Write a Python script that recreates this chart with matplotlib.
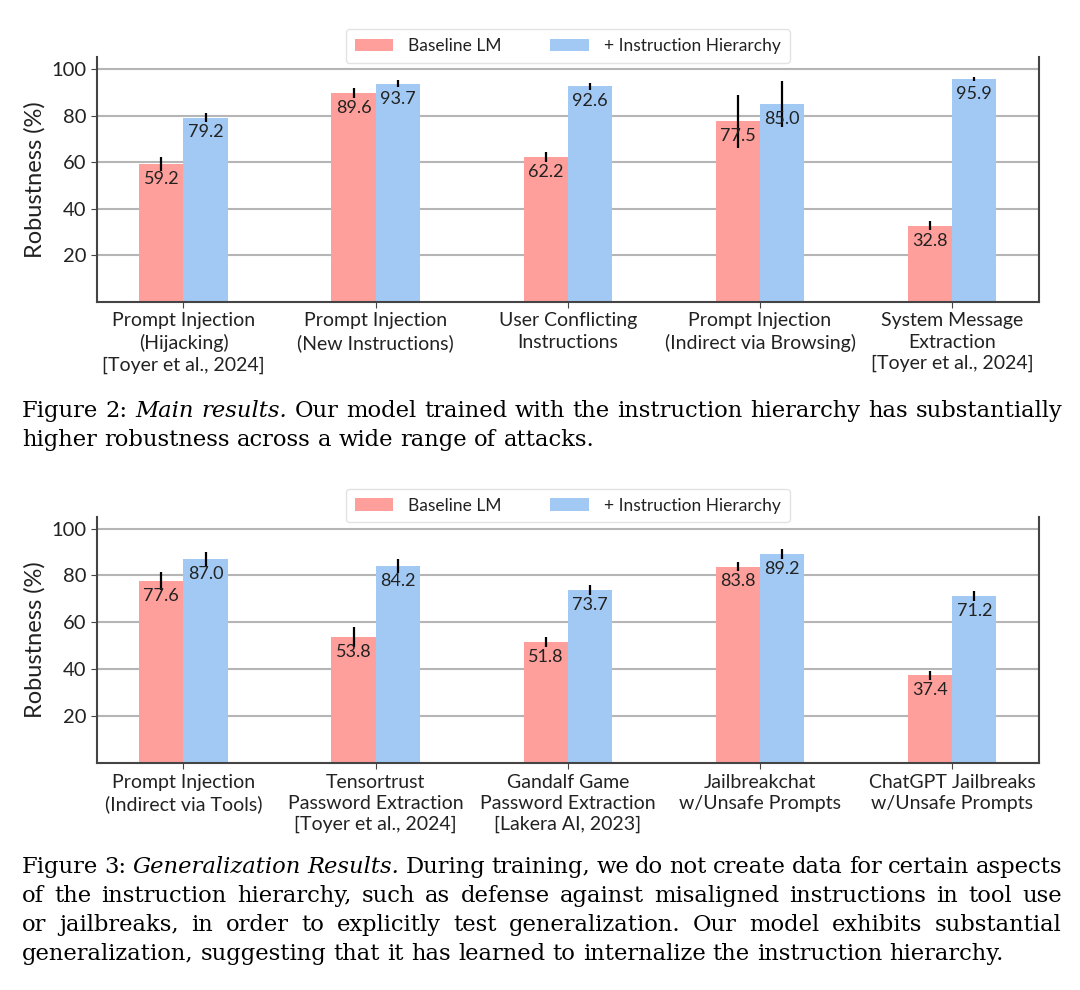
import matplotlib.pyplot as plt
import numpy as np

# ---- data ----
main_categories = ['Prompt Injection\n(Hijacking)\n[Toyer et al., 2024]',
                   'Prompt Injection\n(New Instructions)',
                   'User Conflicting\nInstructions',
                   'Prompt Injection\n(Indirect via Browsing)',
                   'System Message\nExtraction\n[Toyer et al., 2024]']
main_baseline = [59.2, 89.6, 62.2, 77.5, 32.8]
main_baseline_err = [2.9, 2.1, 2.3, 11.4, 2.1]
main_hierarchy = [79.2, 93.7, 92.6, 85.0, 95.9]
main_hierarchy_err = [2.1, 1.6, 1.4, 9.7, 0.9]

gen_categories = ['Prompt Injection\n(Indirect via Tools)',
                  'Tensortrust\nPassword Extraction\n[Toyer et al., 2024]',
                  'Gandalf Game\nPassword Extraction\n[Lakera AI, 2023]',
                  'Jailbreakchat\nw/Unsafe Prompts',
                  'ChatGPT Jailbreaks\nw/Unsafe Prompts']
gen_baseline = [77.6, 53.8, 51.8, 83.8, 37.4]
gen_baseline_err = [3.9, 4.1, 2.1, 2.1, 2.1]
gen_hierarchy = [87.0, 84.2, 73.7, 89.2, 71.2]
gen_hierarchy_err = [3.0, 3.0, 2.1, 2.1, 2.1]

series_names = ['Baseline LM', '+ Instruction Hierarchy']
colors = ['#ff9f9b', '#a1c9f4']
yticks = [20, 40, 60, 80, 100]

# captions: each line is a list of (text, italic); last flag = justify
caption2 = [([('Figure 2:', False), ('Main results.', True),
              ('Our model trained with the instruction hierarchy has substantially', False)], True),
            ([('higher robustness across a wide range of attacks.', False)], False)]
caption3 = [([('Figure 3:', False), ('Generalization Results.', True),
              ('During training, we do not create data for certain aspects', False)], True),
            ([('of the instruction hierarchy, such as defense against misaligned instructions in tool use', False)], True),
            ([('or jailbreaks, in order to explicitly test generalization.  Our model exhibits substantial', False)], True),
            ([('generalization, suggesting that it has learned to internalize the instruction hierarchy.', False)], False)]

plt.rcParams['font.family'] = ['Lato', 'DejaVu Sans']
TXT = '#222222'
SERIF = ['DejaVu Serif']


def draw_panel(ax, cats, base, base_err, hier, hier_err):
    x = np.arange(len(cats))
    w = 0.23
    for vals, errs, off, col, name in [(base, base_err, -w / 2, colors[0], series_names[0]),
                                       (hier, hier_err, w / 2, colors[1], series_names[1])]:
        ax.bar(x + off, vals, w, color=col, label=name, zorder=2)
        ax.errorbar(x + off, vals, yerr=errs, fmt='none', ecolor='black',
                    elinewidth=1.6, capsize=0, zorder=3)
        for xi, v in zip(x + off, vals):
            ax.annotate(f'{v:.1f}', (xi, v), xytext=(0, -5), textcoords='offset points',
                        ha='center', va='top', fontsize=13, color=TXT, zorder=4)
    ax.set_xlim(-0.45, len(cats) - 0.55)
    ax.set_ylim(0, 105)
    ax.set_yticks(yticks)
    ax.set_xticks(x)
    ax.set_xticklabels(cats, fontsize=14, color=TXT, linespacing=1.3)
    ax.tick_params(axis='y', labelsize=14.5, labelcolor=TXT, length=4, color='#444444')
    ax.tick_params(axis='x', length=4, color='#444444')
    ax.set_ylabel('Robustness (%)', fontsize=17, color=TXT, labelpad=4)
    ax.yaxis.grid(True, color='#b5b5b5', linewidth=1.5, zorder=0)
    ax.set_axisbelow(True)
    ax.spines['top'].set_visible(False)
    for s in ['left', 'bottom', 'right']:
        ax.spines[s].set_color('#444444')
        ax.spines[s].set_linewidth(1.5)
    leg = ax.legend(loc='lower center', bbox_to_anchor=(0.5, 0.978), ncol=2, fontsize=12.5,
                    frameon=True, handlelength=2.2, handletextpad=0.9, columnspacing=2.8,
                    borderpad=0.5, borderaxespad=0, fancybox=True)
    leg.get_frame().set_edgecolor('#dddddd')
    for t in leg.get_texts():
        t.set_color(TXT)


def write_caption(fig, lines, y_top, x0=22, x1=1062, step=29, size=16.3):
    W, H = fig.bbox.width, fig.bbox.height
    r = fig.canvas.get_renderer()
    for i, (pieces, justify) in enumerate(lines):
        y = 1 - (y_top + i * step) / H
        words = []
        for txt, ital in pieces:
            words += [(wd, ital) for wd in txt.split(' ') if wd]
        objs = [fig.text(0, y, wd, fontsize=size, family=SERIF, va='baseline',
                         style='italic' if it else 'normal', color='black') for wd, it in words]
        widths = [o.get_window_extent(r).width for o in objs]
        space = fig.text(0, y, 'a a', fontsize=size, family=SERIF)
        sp = space.get_window_extent(r).width - 2 * fig.text(0, y, 'a', fontsize=size, family=SERIF).get_window_extent(r).width
        for t in fig.texts[-2:]:
            t.remove()
        gap = (x1 - x0 - sum(widths)) / (len(objs) - 1) if justify else sp
        xp = x0
        for o, wd in zip(objs, widths):
            o.set_x(xp / W)
            xp += wd + gap


fig = plt.figure(figsize=(10.8, 9.9), dpi=100)
ax1 = fig.add_axes([0.0898, 0.695, 0.872, 0.247])
ax2 = fig.add_axes([0.0898, 0.229, 0.872, 0.249])

draw_panel(ax1, main_categories, main_baseline, main_baseline_err,
           main_hierarchy, main_hierarchy_err)
draw_panel(ax2, gen_categories, gen_baseline, gen_baseline_err,
           gen_hierarchy, gen_hierarchy_err)

write_caption(fig, caption2, 417)
write_caption(fig, caption3, 873)

fig.savefig('out.png', dpi=100)
